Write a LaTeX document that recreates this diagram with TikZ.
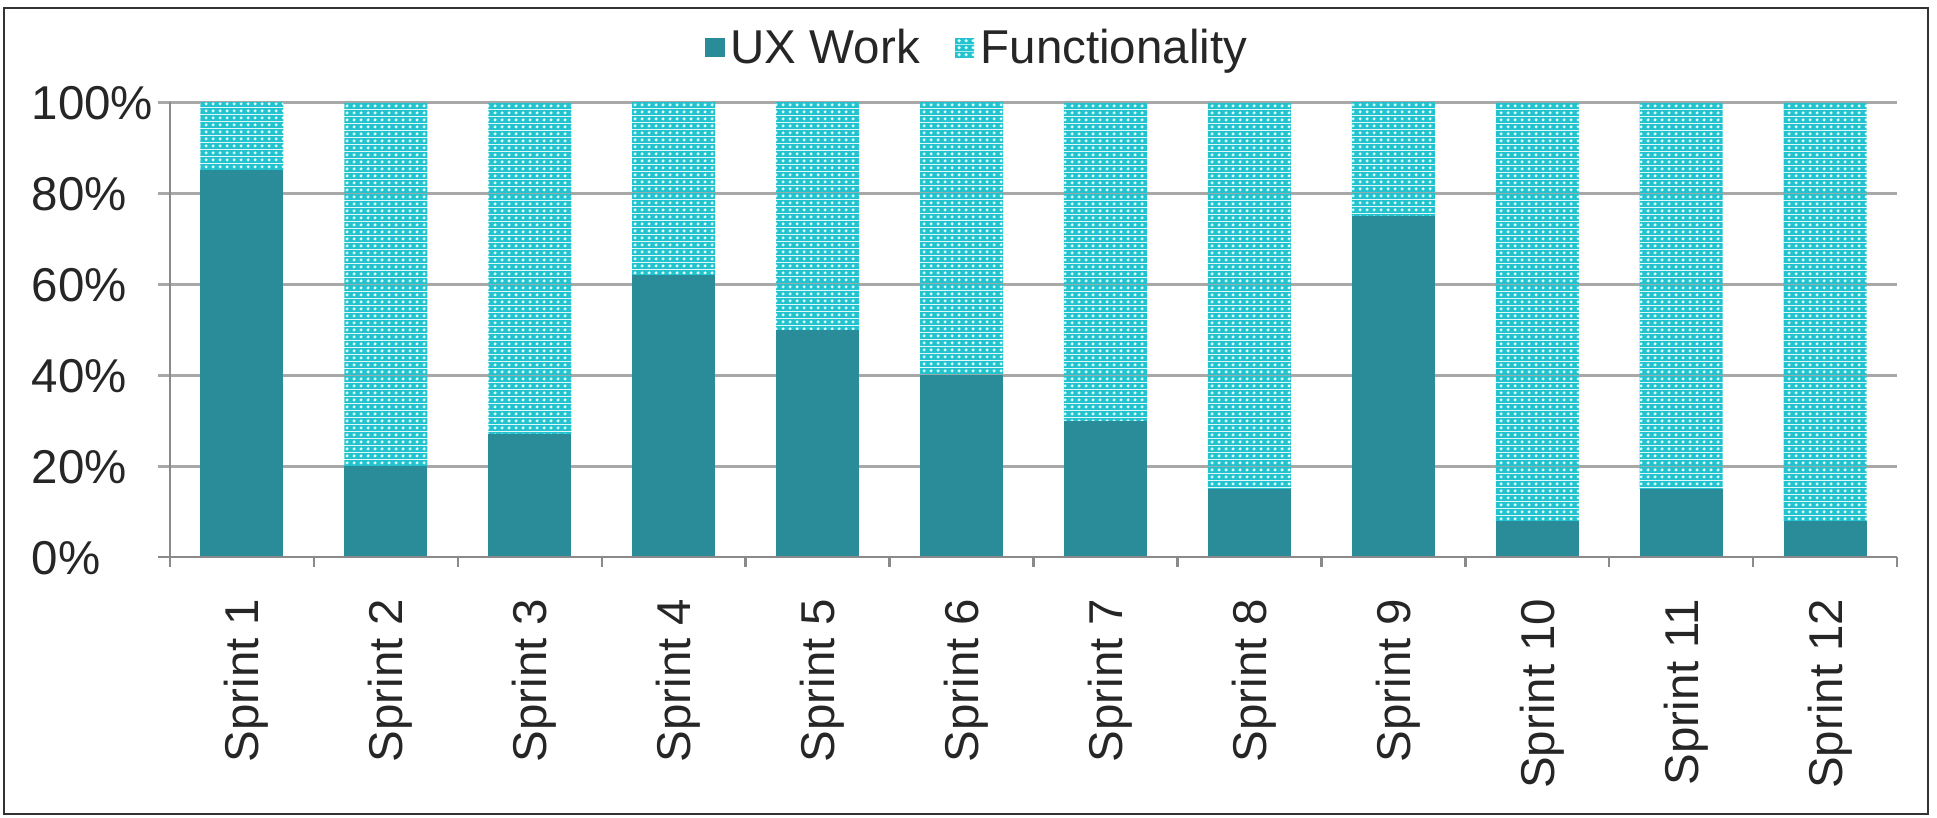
\documentclass[tikz,border=0pt]{standalone}
\usepackage{fontspec}
\setmainfont{Liberation Sans}
\usetikzlibrary{patterns.meta}
\definecolor{uxteal}{HTML}{2A8C99}
\definecolor{fcyan}{HTML}{22C3CE}
\definecolor{fdot}{HTML}{D8FFFF}
\definecolor{gridgray}{HTML}{A8A8A8}
\definecolor{axisgray}{HTML}{8A8A8A}
\tikzdeclarepattern{
  name=fdots,
  type=colored,
  bounding box={(0pt,0pt) and (2pt,2pt)},
  tile size={(2pt,2pt)},
  code={\fill[fcyan] (0pt,0pt) rectangle (2pt,2pt);
        \fill[fdot] (1pt,1pt) circle (0.55pt);}
}
\begin{document}
\begin{tikzpicture}[x=0.01cm,y=-0.01cm,
  font=\fontsize{13.5}{16}\selectfont,
  txt/.style={inner sep=0pt, text=black!85},
  ylab/.style={txt, anchor=base west},
  xlab/.style={txt, rotate=90, anchor=base east},
  gridln/.style={draw=gridgray, line width=0.85pt},
  axisln/.style={draw=axisgray, line width=0.7pt},
  uxbar/.style={fill=uxteal},
  fbar/.style={pattern=fdots}]
\useasboundingbox (0,0) rectangle (1937,817);
\fill[white] (0,0) rectangle (1937,817);
\draw[black!80, line width=0.7pt] (4,8) rectangle (1928,814);
% gridlines
\foreach \k in {1,...,5}{
  \draw[gridln] (158,{557-91*\k}) -- (1897,{557-91*\k});
}
% y labels
\foreach \k/\t in {0/0,1/20,2/40,3/60,4/80,5/100}{
  \node[ylab] (y\k) at (31,{557-91*\k+17}) {\t\%};
}
% bars
\foreach \i/\v in {1/85,2/20,3/27,4/62,5/50,6/40,7/30,8/15,9/75,10/8,11/15,12/8}{
  \pgfmathsetmacro\cx{170+(\i-0.5)*143.92}
  \pgfmathsetmacro\yt{557-4.55*\v}
  \fill[fbar] (\cx-41.5,\yt) rectangle (\cx+41.5,102);
  \fill[uxbar] (\cx-41.5,557) rectangle (\cx+41.5,\yt);
  \node[xlab] (s\i) at (\cx+17,598) {Sprint \i};
}
% axes
\draw[axisln] (158,557) -- (1897,557);
\draw[axisln] (170,102) -- (170,567);
\foreach \i in {1,...,12}{
  \draw[axisln] ({170+143.92*\i},557) -- ({170+143.92*\i},567);
}
% legend
\fill[uxteal] (705,38) rectangle (725,57);
\node[txt, anchor=base west] (lux) at (730,63) {UX Work};
\fill[fbar] (955,38) rectangle (974,57);
\node[txt, anchor=base west] (lf) at (980,63) {Functionality};
\end{tikzpicture}
\end{document}
